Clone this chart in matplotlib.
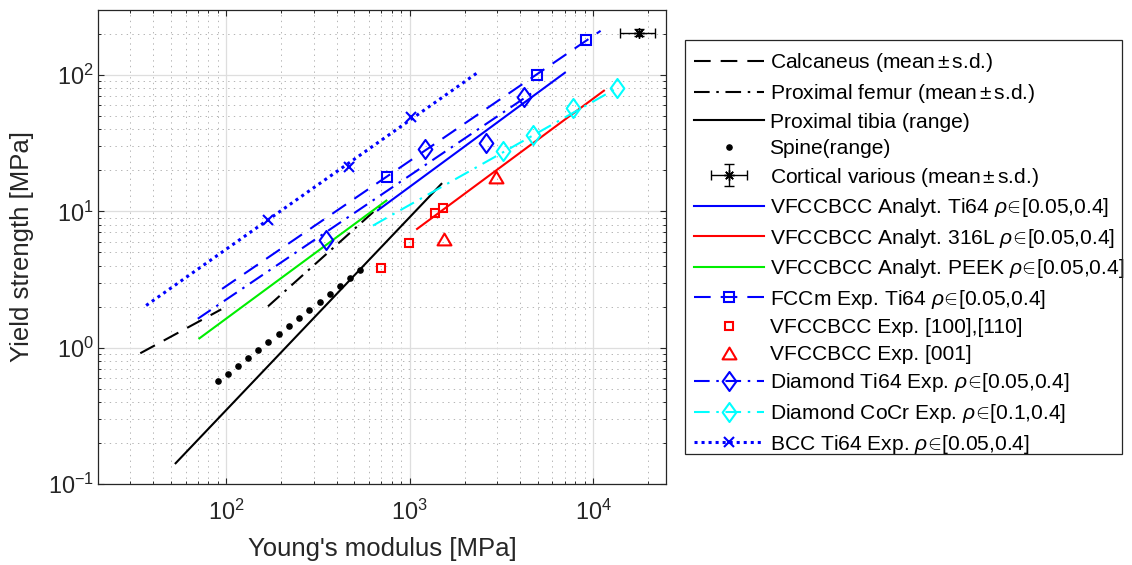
import matplotlib
matplotlib.use("Agg")
import matplotlib.pyplot as plt
from matplotlib.lines import Line2D
from matplotlib.path import Path
from matplotlib.patches import Rectangle
from matplotlib.container import ErrorbarContainer
from matplotlib.legend_handler import HandlerErrorbar

plt.rcParams['font.family'] = ['Liberation Sans', 'DejaVu Sans']
plt.rcParams['mathtext.fontset'] = 'custom'
plt.rcParams['mathtext.rm'] = 'Liberation Sans'
plt.rcParams['mathtext.it'] = 'Liberation Sans:italic'
plt.rcParams['mathtext.bf'] = 'Liberation Sans:bold'

# ---- bone reference data (Young's modulus [MPa], yield strength [MPa]) ----
calc_E = [34, 94]
calc_s = [0.91, 1.91]
femur_E = [169, 713]
femur_s = [2.01, 11.4]
tibia_E = [53, 1490]
tibia_s = [0.142, 15.9]
spine_E = [90, 102, 116, 131, 149, 170, 193, 219, 250, 283, 323, 366, 415, 471, 534]
spine_s = [0.565, 0.646, 0.74, 0.847, 0.968, 1.11, 1.27, 1.45, 1.66, 1.90, 2.17,
           2.49, 2.85, 3.26, 3.73]
cort_E, cort_E_sd = [17900], [3900]
cort_s, cort_s_sd = [205], [12]

# ---- lattice analytical models ----
ti_an_E = [672, 7025]
ti_an_s = [10.2, 104]
ss_an_E = [1098, 11470]
ss_an_s = [7.43, 76.8]
peek_an_E = [71.4, 747]
peek_an_s = [1.17, 12.0]

# ---- lattice experiments ----
fcc_fit_E = [95, 11000]
fcc_fit_s = [2.70, 211]
fcc_E = [753, 4960, 9110]
fcc_s = [18.0, 100, 180]

vf_sq_E = [701, 998, 1370, 1518]
vf_sq_s = [3.87, 5.85, 9.78, 10.6]
vf_tri_E = [1549, 2952]
vf_tri_s = [6.28, 17.85]

dti_fit_E = [70, 4640]
dti_fit_s = [1.63, 73.8]
dti_E = [352, 1216, 2618, 4198]
dti_s = [6.21, 28.5, 31.7, 69.4]

dco_fit_E = [631, 13460]
dco_fit_s = [7.86, 80.0]
dco_E = [3236, 4716, 7739, 13460]
dco_s = [27.5, 36.4, 57.0, 80.0]

bcc_fit_E = [36.6, 2318]
bcc_fit_s = [2.04, 103]
bcc_E = [169, 468, 1024]
bcc_s = [8.69, 21.2, 49.1]

rho = r' $\rho\!\in\!$[0.05,0.4]'
pm = r'$\,{\pm}\,$'
labels = [
    'Calcaneus (mean' + pm + 's.d.)',
    'Proximal femur (mean' + pm + 's.d.)',
    'Proximal tibia (range)',
    'Spine(range)',
    'Cortical various (mean' + pm + 's.d.)',
    'VFCCBCC Analyt. Ti64' + rho,
    'VFCCBCC Analyt. 316L' + rho,
    'VFCCBCC Analyt. PEEK' + rho,
    'FCCm Exp. Ti64' + rho,
    'VFCCBCC Exp. [100],[110]',
    'VFCCBCC Exp. [001]',
    'Diamond Ti64 Exp.' + rho,
    r'Diamond CoCr Exp. $\rho\!\in\!$[0.1,0.4]',
    'BCC Ti64 Exp.' + rho,
]

BLUE, RED, GREEN, CYAN, BLACK = '#0000ff', '#ff0000', '#00ee00', '#00ffff', '#000000'
AXC = '#262626'
LW = 1.5
DASH = (0, (8, 4.8))
DASHDOT = (0, (7.5, 3.2, 1.2, 3.2))
DOT = (0, (1, 1.3))

diamond = Path([(0, 1), (0.72, 0), (0, -1), (-0.72, 0), (0, 1)],
               [Path.MOVETO, Path.LINETO, Path.LINETO, Path.LINETO, Path.CLOSEPOLY])
triangle = Path([(-1, -0.85), (1, -0.85), (0, 0.85), (-1, -0.85)],
                [Path.MOVETO, Path.LINETO, Path.LINETO, Path.CLOSEPOLY])
asterisk = (8, 2, 0)

W, H = 1132, 565
fig = plt.figure(figsize=(W / 100, H / 100), dpi=100)
ax = fig.add_axes([98 / W, 1 - 484 / H, 568 / W, 474 / H])
ax.set_xscale('log')
ax.set_yscale('log')

h = []
h.append(ax.plot(calc_E, calc_s, color=BLACK, lw=LW, ls=DASH)[0])
h.append(ax.plot(femur_E, femur_s, color=BLACK, lw=LW, ls=DASHDOT)[0])
h.append(ax.plot(tibia_E, tibia_s, color=BLACK, lw=LW, ls='-')[0])
h.append(ax.plot(spine_E, spine_s, color=BLACK, ls='none', marker='.', ms=7.5)[0])
eb = ax.errorbar(cort_E, cort_s, xerr=cort_E_sd, yerr=cort_s_sd, color=BLACK,
                 marker=asterisk, ms=7.5, mew=1.0, elinewidth=1.0, capsize=3.6,
                 capthick=1.0, ls='none')
h.append(eb)

h.append(ax.plot(ti_an_E, ti_an_s, color=BLUE, lw=LW)[0])
h.append(ax.plot(ss_an_E, ss_an_s, color=RED, lw=LW)[0])
h.append(ax.plot(peek_an_E, peek_an_s, color=GREEN, lw=LW)[0])

# FCCm: fitted line and measured points
ax.plot(fcc_fit_E, fcc_fit_s, color=BLUE, lw=LW, ls=DASH)
ax.plot(fcc_E, fcc_s, ls='none', marker='s', ms=7.2, mfc='none', mec=BLUE, mew=1.5)
h.append(Line2D([], [], color=BLUE, lw=LW, ls=DASH, marker='s', ms=7.2,
                mfc='none', mec=BLUE, mew=1.5))

h.append(ax.plot(vf_sq_E, vf_sq_s, ls='none', marker='s', ms=6.4, mfc='none',
                 mec=RED, mew=1.5)[0])
h.append(ax.plot(vf_tri_E, vf_tri_s, ls='none', marker=triangle, ms=10, mfc='none',
                 mec=RED, mew=1.5)[0])

ax.plot(dti_fit_E, dti_fit_s, color=BLUE, lw=LW, ls=DASHDOT)
ax.plot(dti_E, dti_s, ls='none', marker=diamond, ms=13.7, mfc='none', mec=BLUE, mew=1.5)
h.append(Line2D([], [], color=BLUE, lw=LW, ls=DASHDOT, marker=diamond, ms=13.7,
                mfc='none', mec=BLUE, mew=1.5))

ax.plot(dco_fit_E, dco_fit_s, color=CYAN, lw=LW, ls=DASHDOT)
ax.plot(dco_E, dco_s, ls='none', marker=diamond, ms=13.7, mfc='none', mec=CYAN, mew=1.5)
h.append(Line2D([], [], color=CYAN, lw=LW, ls=DASHDOT, marker=diamond, ms=13.7,
                mfc='none', mec=CYAN, mew=1.5))

ax.plot(bcc_fit_E, bcc_fit_s, color=BLUE, lw=2.2, ls=DOT)
ax.plot(bcc_E, bcc_s, ls='none', marker='x', ms=6.8, mec=BLUE, mew=1.5)
h.append(Line2D([], [], color=BLUE, lw=2.2, ls=DOT, marker='x', ms=6.8,
                mec=BLUE, mew=1.5))

# axes styling
ax.set_xlim(20, 25000)
ax.set_ylim(0.1, 300)
ax.set_axisbelow(True)
ax.grid(True, which='major', color='#dedede', lw=0.9, ls='-')
ax.grid(True, which='minor', color='#b4b4b4', lw=0.7, ls=(0, (1.4, 4.4)))
for sp in ax.spines.values():
    sp.set_color(AXC)
    sp.set_linewidth(0.9)
ax.tick_params(which='both', direction='in', top=True, right=True, colors=AXC,
               labelsize=16.8)
ax.tick_params(which='major', length=4.5, width=0.8)
ax.tick_params(which='minor', length=2.4, width=0.7)
ax.tick_params(axis='x', which='major', pad=11)
ax.tick_params(axis='y', which='major', pad=3)

ax.set_xlabel("Young's modulus [MPa]", fontsize=18.5, color=AXC, va='center')
ax.set_ylabel('Yield strength [MPa]', fontsize=18.5, color=AXC, va='center')
ax.xaxis.set_label_coords(0.5, (484 - 549) / 474)
ax.yaxis.set_label_coords((22 - 98) / 568, 0.5)

# legend outside the axes, with its own box
leg_left, leg_top, leg_right, leg_bottom = 685, 40, 1122, 454
leg = ax.legend(h, labels, loc='upper left', mode='expand',
                bbox_to_anchor=(leg_left / W, 0.0, (leg_right - leg_left) / W,
                                1 - (leg_top + 2) / H),
                bbox_transform=fig.transFigure, borderaxespad=0,
                fontsize=15.1, handlelength=3.33, handletextpad=0.25,
                borderpad=0.45, labelspacing=0.36, frameon=False, numpoints=1,
                handler_map={ErrorbarContainer: HandlerErrorbar(xerr_size=0.86,
                                                                yerr_size=0.52)})
fig.patches.append(Rectangle((leg_left / W, 1 - leg_bottom / H),
                             (leg_right - leg_left) / W,
                             (leg_bottom - leg_top) / H,
                             transform=fig.transFigure, fill=False,
                             ec=AXC, lw=0.9))

fig.savefig('out.png', dpi=100)
